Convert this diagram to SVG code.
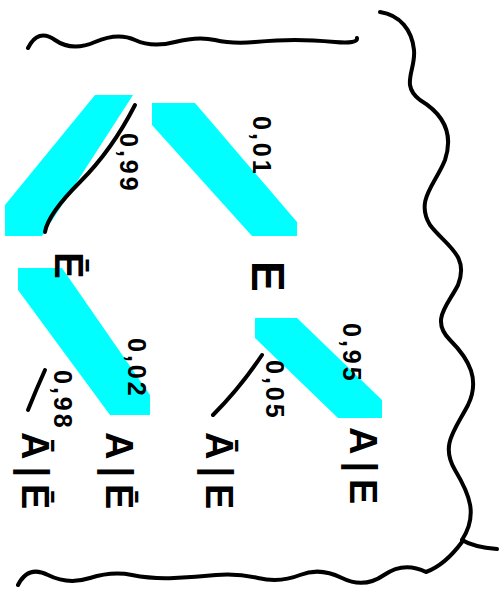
<svg xmlns="http://www.w3.org/2000/svg" width="502" height="607" viewBox="0 0 502 607">
<style>
.ink{fill:none;stroke:#000;stroke-width:4;stroke-linecap:round;stroke-linejoin:round}
.hl{fill:#00ffff;stroke:none}
.lbl{font-family:"Liberation Sans",sans-serif;fill:#000;font-weight:bold}
.big{font-size:38px;letter-spacing:7px}
.num{font-size:25px;letter-spacing:3px}
</style>
<rect width="502" height="607" fill="#fff"/>
<g id="edges">
<path class="ink" d="M28,48 Q38,28 55,40 T95,42 T135,40 T175,42 T215,40 T255,42 T295,40 T335,42 T357,38"/>
<path class="ink" d="M380,12 C400,15 412,30 414,50 C416,70 400,85 420,100 C440,112 455,130 445,160 C435,185 415,200 430,225 C445,245 470,255 458,285 C448,305 430,320 450,340 C470,360 480,380 468,405 C455,430 440,445 455,470 C470,495 478,515 462,540"/>
<path class="ink" d="M462,540 C470,545 485,548 497,549"/>
<path class="ink" d="M18,585 Q28,565 48,575 T90,578 T132,575 T174,578 T216,575 T258,578 T300,575 T342,578 T384,575 T426,572 Q445,565 462,542"/>
<polygon class="hl" points="95,95 133,95 42,236 5,236 5,205"/>
<polygon class="hl" points="152,103 195,103 297,222 297,236 252,236 152,125"/>
<polygon class="hl" points="18,268 62,268 150,395 150,415 110,415 18,290"/>
<polygon class="hl" points="255,318 297,318 382,400 382,418 338,418 255,338"/>
<path class="ink" d="M135,105 Q112,150 80,182 T45,232"/>
<path class="ink" d="M45,370 Q36,390 28,410"/>
<path class="ink" d="M262,355 Q240,388 213,415"/>
<text class="lbl num" transform="translate(120,133) rotate(90)">0,99</text>
<text class="lbl num" transform="translate(253,116) rotate(90)">0,01</text>
<text class="lbl num" transform="translate(54,370) rotate(90)">0,98</text>
<text class="lbl num" transform="translate(128,338) rotate(90)">0,02</text>
<text class="lbl num" transform="translate(266,360) rotate(90)">0,05</text>
<text class="lbl num" transform="translate(343,323) rotate(90)">0,95</text>
</g>
<g id="node-Ebar"><text class="lbl" style="font-size:40px" transform="translate(55,252) rotate(90)">Ē</text></g>
<g id="node-E"><text class="lbl" style="font-size:46px" transform="translate(252,261) rotate(90)">E</text></g>
<g id="node-AbarEbar"><text class="lbl big" transform="translate(22,432) rotate(90)">Ā|Ē</text></g>
<g id="node-AEbar"><text class="lbl big" transform="translate(106,432) rotate(90)">A|Ē</text></g>
<g id="node-AbarE"><text class="lbl big" transform="translate(206,432) rotate(90)">Ā|E</text></g>
<g id="node-AE"><text class="lbl big" transform="translate(350,427) rotate(90)">A|E</text></g>
</svg>
